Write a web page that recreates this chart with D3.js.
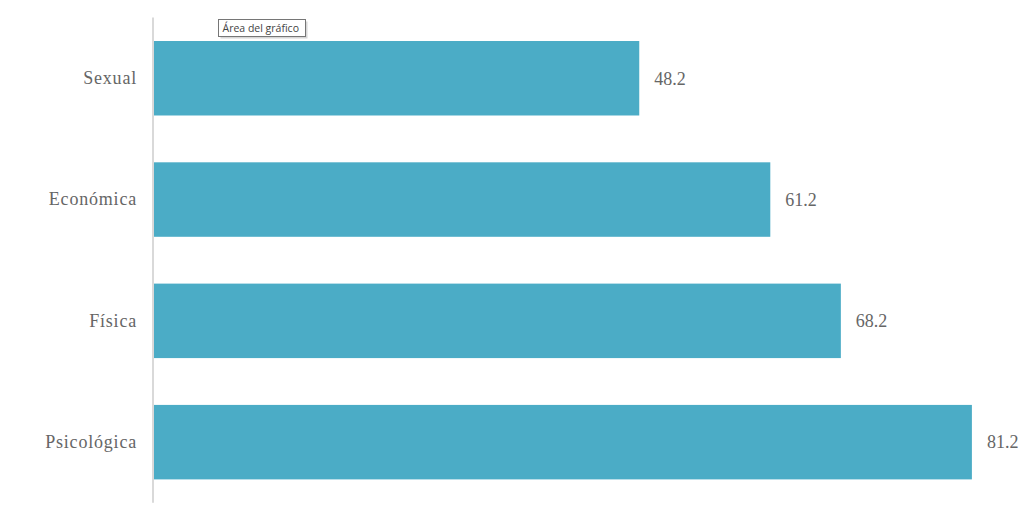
<!DOCTYPE html>
<html><head><meta charset="utf-8">
<script src="https://cdn.jsdelivr.net/npm/d3@7"></script>
<style>html,body{margin:0;padding:0;background:#fff;}svg{display:block;}</style>
</head><body>
<svg id="chart" width="1024" height="516"></svg>
<script>
const categories = ["Sexual", "Económica", "Física", "Psicológica"];
const values = [48.2, 61.2, 68.2, 81.2];
const tooltipLabel = "Área del gráfico";

const svg = d3.select("#chart");
const x = d3.scaleLinear().domain([0, 100]).range([153.4, 1161.4]);
const y = d3.scaleBand().domain(categories).range([17.6, 502.8]).paddingInner(0.386).paddingOuter(0.193);

const data = categories.map((c, i) => ({c, v: values[i]}));

svg.selectAll("rect.bar").data(data).enter().append("rect")
  .attr("class", "bar")
  .attr("x", x(0))
  .attr("y", d => y(d.c))
  .attr("width", d => x(d.v) - x(0))
  .attr("height", y.bandwidth())
  .attr("fill", "#4BACC6");

// axis
const axis = d3.axisLeft(y).tickSize(0).tickPadding(16);
const g = svg.append("g").attr("transform", `translate(${x(0) - 0.4},0)`).call(axis);
g.select(".domain").attr("stroke", "#d9d9d9").attr("stroke-width", 2)
  .attr("d", `M0,${y.range()[0]}V${y.range()[1]}`);
g.selectAll("text").attr("font-family", "'Liberation Serif', 'Times New Roman', serif")
  .attr("font-size", 18).attr("fill", "#666").attr("letter-spacing", 0.8);

svg.selectAll("text.val").data(data).enter().append("text")
  .attr("class", "val")
  .attr("x", d => x(d.v) + 15)
  .attr("y", d => y(d.c) + y.bandwidth() / 2)
  .attr("dy", "0.35em")
  .attr("font-family", "'Liberation Serif', 'Times New Roman', serif")
  .attr("font-size", 18).attr("fill", "#666")
  .text(d => d.v.toFixed(1));

// tooltip
const tt = svg.append("g").attr("transform", "translate(218.5,19.5)");
tt.append("rect").attr("x", 2).attr("y", 2).attr("width", 87).attr("height", 17).attr("fill", "#bdbdbd").attr("opacity", 0.6);
tt.append("rect").attr("width", 87).attr("height", 17).attr("fill", "#fff").attr("stroke", "#767676").attr("stroke-width", 1);
tt.append("text").attr("x", 4).attr("y", 12.5).attr("font-family", "'Open Sans', 'DejaVu Sans', sans-serif")
  .attr("font-size", 10.5).attr("fill", "#444").text(tooltipLabel);
</script>
</body></html>
